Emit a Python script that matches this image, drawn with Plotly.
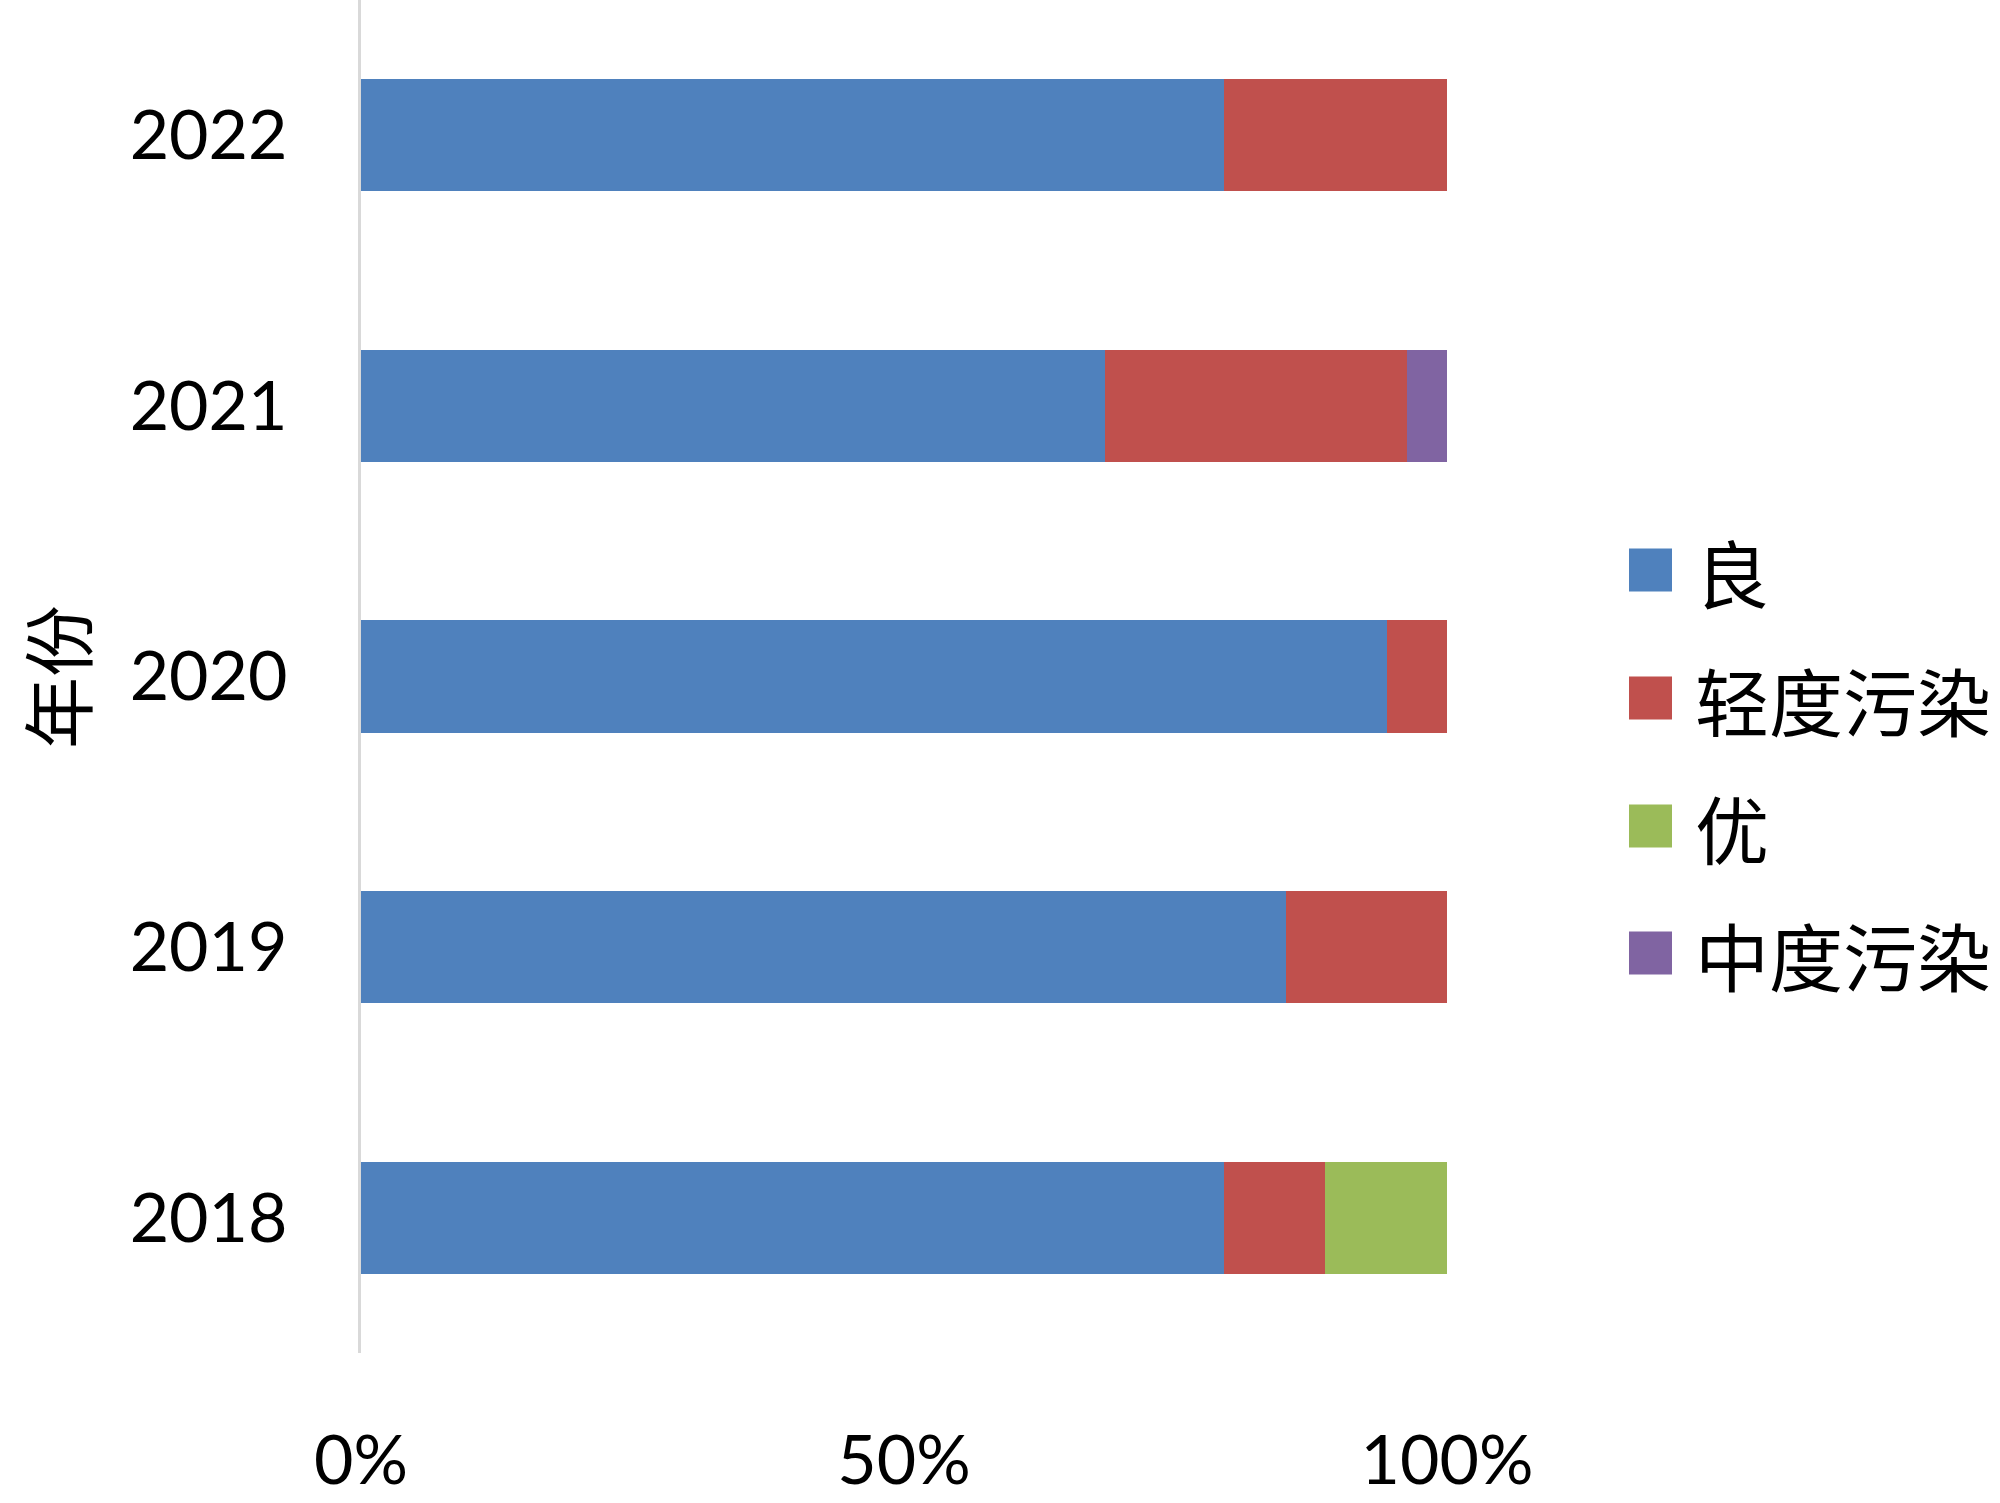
import plotly.graph_objects as go

years = ["2018", "2019", "2020", "2021", "2022"]
series_names = ["良", "轻度污染", "优", "中度污染"]
liang = [79.5, 85.2, 94.5, 68.5, 79.5]
qingdu = [9.3, 14.8, 5.5, 27.8, 20.5]
you = [11.2, 0, 0, 0, 0]
zhongdu = [0, 0, 0, 3.7, 0]
colors = ["#4F81BD", "#C0504D", "#9BBB59", "#8064A2"]
x_ticks = [0, 0.5, 1.0]
x_tick_labels = ["0%", "50%", "100%"]

W, H = 2000, 1503
L, R, T, B = 361, 553, 0, 150
pw, ph = W - L - R, H - T - B

num_font = "Lato, Carlito, Calibri, sans-serif"
cjk_font = "Noto Sans CJK SC"

fig = go.Figure()
for name, vals, col in zip(series_names, [liang, qingdu, you, zhongdu], colors):
    fig.add_trace(go.Bar(
        y=years, x=[v / 100 for v in vals], name=name, orientation="h",
        marker=dict(color=col, line=dict(width=0)), showlegend=False,
    ))

def px_x(p):
    return (p - L) / pw

def px_y(p):
    return (T + ph - p) / ph

shapes = []
annotations = []
leg_y = [570, 698, 826, 953]
for name, col, cy in zip(series_names, colors, leg_y):
    shapes.append(dict(type="rect", xref="paper", yref="paper",
                       x0=px_x(1629), x1=px_x(1672), y0=px_y(cy + 21.5), y1=px_y(cy - 21.5),
                       fillcolor=col, line=dict(width=0)))
    annotations.append(dict(text=name, xref="paper", yref="paper", x=px_x(1693), y=px_y(cy),
                            xanchor="left", yanchor="middle", showarrow=False,
                            font=dict(family=cjk_font, size=74, color="black")))

annotations.append(dict(text="年份", xref="paper", yref="paper", x=px_x(54), y=px_y(677),
                        xanchor="center", yanchor="middle", textangle=-90, showarrow=False,
                        font=dict(family=cjk_font, size=72, color="black")))

fig.update_layout(
    barmode="stack", bargap=0.586,
    width=W, height=H, autosize=False,
    margin=dict(l=L, r=R, t=T, b=B, autoexpand=False),
    paper_bgcolor="white", plot_bgcolor="white",
    shapes=shapes, annotations=annotations,
    xaxis=dict(range=[0, 1], tickvals=x_ticks, ticktext=x_tick_labels,
               showgrid=False, zeroline=False, showline=False, ticks="",
               ticklabelstandoff=62, automargin=False,
               tickfont=dict(family=num_font, size=68, color="black")),
    yaxis=dict(type="category", categoryorder="array", categoryarray=years,
               showgrid=False, zeroline=False, showline=True, linecolor="#D9D9D9", linewidth=3,
               ticks="", ticklabelstandoff=57, automargin=False,
               tickfont=dict(family=num_font, size=68, color="black")),
)

fig.write_html("out.html", post_script="document.body.style.margin='0';",
               config={"displayModeBar": False})
